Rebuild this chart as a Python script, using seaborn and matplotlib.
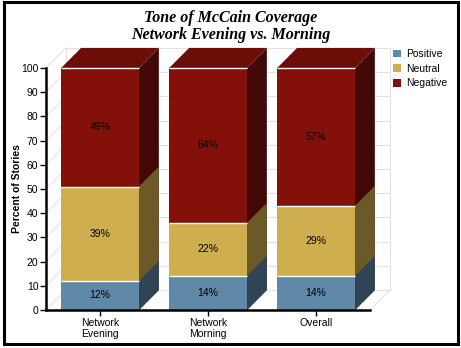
import matplotlib
matplotlib.use("Agg")
import matplotlib.pyplot as plt
import seaborn as sns
import pandas as pd
from matplotlib.patches import Polygon, Rectangle, Patch

# ---- data ----
categories = ["Network\nEvening", "Network\nMorning", "Overall"]
positive = [12, 14, 14]
neutral = [39, 22, 29]
negative = [49, 64, 57]
series_names = ["Positive", "Neutral", "Negative"]
yticks = list(range(0, 101, 10))

front_colors = {"Positive": "#6088a8", "Neutral": "#ceae4e", "Negative": "#84100a"}
side_colors = {"Positive": "#2f4555", "Neutral": "#6b5a28", "Negative": "#420805"}
top_color = "#6c0e06"
grid_color = "#e2e2e2"

sns.set_style("white")
plt.rcParams["font.family"] = ["Liberation Sans", "DejaVu Sans"]
plt.rcParams["text.color"] = "black"
plt.rcParams["axes.labelcolor"] = "black"
plt.rcParams["xtick.color"] = "black"
plt.rcParams["ytick.color"] = "black"

fig = plt.figure(figsize=(4.61, 3.48), dpi=100)
ax = fig.add_axes([46 / 461, 38 / 348, 324 / 461, 242 / 348])

df = pd.DataFrame({"category": categories, "Positive": positive,
                   "Neutral": neutral, "Negative": negative})
df["bottom_Positive"] = 0
df["top_Positive"] = df["Positive"]
df["bottom_Neutral"] = df["top_Positive"]
df["top_Neutral"] = df["bottom_Neutral"] + df["Neutral"]
df["bottom_Negative"] = df["top_Neutral"]
df["top_Negative"] = df["bottom_Negative"] + df["Negative"]

dx, dy = 0.185, 8.3  # 3D depth in data units

# back wall / floor grid
for k in yticks:
    ax.plot([-0.5, -0.5 + dx], [k, k + dy], color=grid_color, lw=0.8,
            zorder=1, clip_on=False)
    ax.plot([-0.5 + dx, 2.5 + dx], [k + dy, k + dy], color=grid_color, lw=0.8,
            zorder=1, clip_on=False)
ax.plot([-0.5 + dx] * 2, [dy, 100 + dy], color=grid_color, lw=0.8, zorder=1, clip_on=False)
ax.plot([2.5 + dx] * 2, [dy, 100 + dy], color=grid_color, lw=0.8, zorder=1, clip_on=False)
ax.plot([2.5, 2.5 + dx], [0, dy], color=grid_color, lw=0.8, zorder=1, clip_on=False)

# stacked bars: draw cumulative totals back to front
for s in ["Negative", "Neutral", "Positive"]:
    sns.barplot(data=df, x="category", y="top_" + s, color=front_colors[s],
                saturation=1, width=0.72, linewidth=0, ax=ax, zorder=3)
    cont = ax.containers[-1]
    for p in cont.patches:
        x0 = p.get_x()
        x1 = x0 + p.get_width()
        y1 = p.get_height()
        side = Polygon([(x1, 0), (x1 + dx, dy), (x1 + dx, y1 + dy), (x1, y1)],
                       closed=True, facecolor=side_colors[s], edgecolor="none",
                       zorder=2, clip_on=False)
        ax.add_patch(side)
        if s == "Negative":
            top = Polygon([(x0, y1), (x0 + dx, y1 + dy), (x1 + dx, y1 + dy), (x1, y1)],
                          closed=True, facecolor=top_color, edgecolor="none",
                          zorder=2, clip_on=False)
            ax.add_patch(top)
        ax.plot([x0, x1], [y1, y1], color="white", lw=1.0, zorder=4,
                clip_on=False, solid_capstyle="butt")

# value labels
for i in range(len(categories)):
    for s in series_names:
        b = df.loc[i, "bottom_" + s]
        t = df.loc[i, "top_" + s]
        ax.text(i, (b + t) / 2, f"{df.loc[i, s]}%", ha="center", va="center",
                fontsize=7.5, color="black", zorder=5)

ax.set_xlim(-0.5, 2.5)
ax.set_ylim(0, 100)
ax.set_yticks(yticks)
ax.set_xlabel("")
ax.set_ylabel("Percent of Stories", fontsize=7.5, fontweight="bold", color="black")
ax.yaxis.set_label_coords(-0.075, 0.5)
ax.patch.set_alpha(0)
for sp in ["top", "right"]:
    ax.spines[sp].set_visible(False)
for sp in ["left", "bottom"]:
    ax.spines[sp].set_color("black")
    ax.spines[sp].set_linewidth(1.8)
    ax.spines[sp].set_zorder(6)
ax.tick_params(axis="both", bottom=True, left=True, direction="out", length=4,
               width=1, color="black", labelcolor="black", labelsize=7.5, pad=1.5)

# title
fig.text(0.5, 1 - 10 / 348, "Tone of McCain Coverage\nNetwork Evening vs. Morning",
         ha="center", va="top", family=["Liberation Serif", "DejaVu Serif"],
         style="italic", weight="bold", fontsize=11.5, linespacing=1.05,
         color="black")

# legend
handles = [Patch(facecolor=front_colors[s], edgecolor="none") for s in series_names]
fig.legend(handles, series_names, loc="upper left",
           bbox_to_anchor=(393 / 461, 1 - 49 / 348), frameon=False, fontsize=7.5,
           handlelength=0.75, handleheight=0.75, handletextpad=0.5,
           labelspacing=0.45, borderaxespad=0, borderpad=0,
           labelcolor="black")

# outer border
fig.add_artist(Rectangle((3.5 / 461, 4.5 / 348), 454 / 461, 342 / 348,
                         transform=fig.transFigure, fill=False, lw=2.2,
                         edgecolor="black"))

fig.savefig("out.png", dpi=100)
